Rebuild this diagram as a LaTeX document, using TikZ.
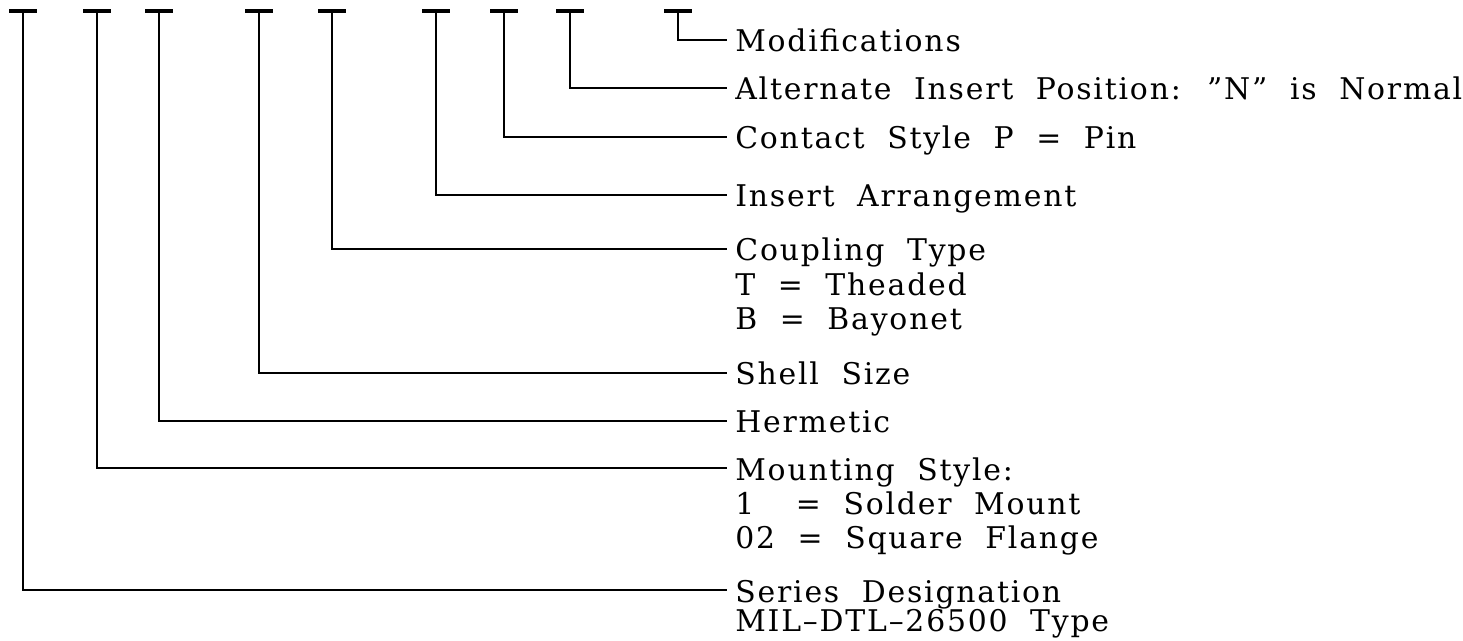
\documentclass[tikz,border=0pt]{standalone}
\usepackage{fontspec}
\setmainfont{DejaVu Serif}[LetterSpace=6,WordSpace=2]
\usetikzlibrary{calc}
% stacked lines, baseline on the first one
\newcommand{\keylines}[1]{\begin{tabular}[t]{@{}l@{}}#1\end{tabular}}

\begin{document}
\begin{tikzpicture}[x=0.02cm, y=-0.02cm,
    lbl/.style={anchor=base west, inner sep=0pt,
                font=\fontsize{17pt}{19.6pt}\selectfont},
    lead/.style={line width=1.1pt},
    bar/.style={line width=2.4pt}
  ]
  \useasboundingbox (0,0) rectangle (1463,641);

  % tick marks along the part number
  \coordinate (tSer) at ( 23,11);
  \coordinate (tMnt) at ( 97,11);
  \coordinate (tHer) at (159,11);
  \coordinate (tShl) at (259,11);
  \coordinate (tCpl) at (332,11);
  \coordinate (tArr) at (436,11);
  \coordinate (tCon) at (504,11);
  \coordinate (tAlt) at (570,11);
  \coordinate (tMod) at (678,11);
  \foreach \t in {tSer,tMnt,tHer,tShl,tCpl,tArr,tCon,tAlt,tMod}
    \draw[bar] ($(\t)+(-14,0)$) -- ($(\t)+(14,0)$);

  % field descriptions
  \node[lbl] (mod) at (735, 52) {Modifications};
  \node[lbl] (alt) at (735,100) {Alternate Insert Position: ”N” is Normal};
  \node[lbl] (con) at (735,149) {Contact Style P = Pin};
  \node[lbl] (arr) at (735,207) {Insert Arrangement};
  \node[lbl] (cpl) at (735,261) {\keylines{Coupling Type\\T = Theaded\\B = Bayonet}};
  \node[lbl] (shl) at (735,385) {Shell Size};
  \node[lbl] (her) at (735,433) {Hermetic};
  \node[lbl] (mnt) at (735,480) {\keylines{Mounting Style:\\1\phantom{2} = Solder Mount\\02 = Square Flange}};
  \node[lbl] (ser) at (735,602) {\keylines{Series Designation\\[-3pt]MIL–DTL–26500 Type}};

  % leaders
  \draw[lead] (tMod) |- ($(mod.base west)+(-8,-12)$);
  \draw[lead] (tAlt) |- ($(alt.base west)+(-8,-12)$);
  \draw[lead] (tCon) |- ($(con.base west)+(-8,-12)$);
  \draw[lead] (tArr) |- ($(arr.base west)+(-8,-12)$);
  \draw[lead] (tCpl) |- ($(cpl.base west)+(-8,-12)$);
  \draw[lead] (tShl) |- ($(shl.base west)+(-8,-12)$);
  \draw[lead] (tHer) |- ($(her.base west)+(-8,-12)$);
  \draw[lead] (tMnt) |- ($(mnt.base west)+(-8,-12)$);
  \draw[lead] (tSer) |- ($(ser.base west)+(-8,-12)$);
\end{tikzpicture}
\end{document}
